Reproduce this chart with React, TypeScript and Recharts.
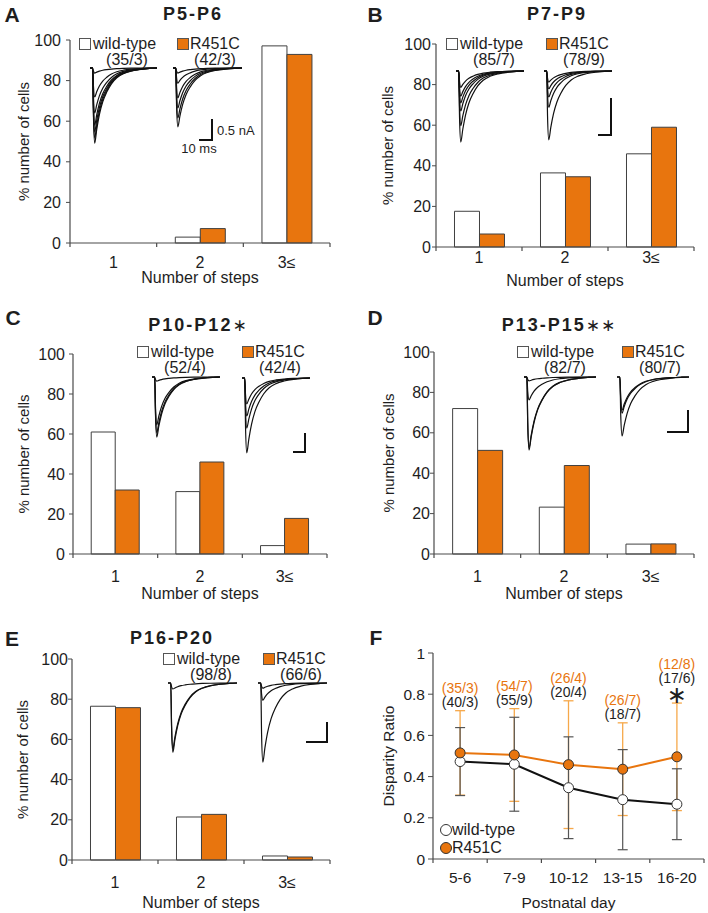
import React from 'react'
import {
  BarChart,
  Bar,
  LineChart,
  Line,
  XAxis,
  YAxis,
  ErrorBar,
  LabelList,
  Label,
} from 'recharts'

const FONT = '"Liberation Sans", Arial, Helvetica, sans-serif'
const ORANGE = '#E8750E'
const ERR_ORANGE = '#F6A84A'
const EDGE = '#404040'
const AXIS = '#4a4a4a'
const INK = '#1e1e1e'

// ---- bar panels: % of cells by number of steps ----
const steps = ['1', '2', '3≤']

const p5p6Wt = [0, 2.9, 97.1]
const p5p6R = [0, 7.1, 92.9]
const p7p9Wt = [17.6, 36.5, 45.9]
const p7p9R = [6.4, 34.6, 59.0]
const p10p12Wt = [61.0, 31.2, 4.2]
const p10p12R = [32.0, 46.0, 17.8]
const p13p15Wt = [72.0, 23.2, 4.9]
const p13p15R = [51.3, 43.8, 5.0]
const p16p20Wt = [76.5, 21.4, 2.0]
const p16p20R = [75.8, 22.7, 1.5]

// ---- panel F: disparity ratio ----
const days = ['5-6', '7-9', '10-12', '13-15', '16-20']
const wtRatio = [0.473, 0.46, 0.346, 0.288, 0.266]
const wtSd = [0.165, 0.228, 0.247, 0.243, 0.172]
const rRatio = [0.515, 0.505, 0.458, 0.436, 0.496]
const rSd = [0.205, 0.225, 0.31, 0.225, 0.261]
const wtCounts = ['(40/3)', '(55/9)', '(20/4)', '(18/7)', '(17/6)']
const rCounts = ['(35/3)', '(54/7)', '(26/4)', '(26/7)', '(12/8)']
const sig = ['', '', '', '', '∗']

// ---- inset traces: normalised EPSC waveform (ms, fraction of peak) ----
const traceT = [0, 2, 2.6, 3.5, 5, 7, 9.5, 12.5, 16, 20, 25, 31, 38, 45, 50]
const traceShape = [0, 0, -0.65, -1, -0.82, -0.62, -0.45, -0.32, -0.21, -0.13, -0.075, -0.04, -0.018, -0.006, 0]

// peak amplitudes (nA) of the overlaid sweeps in each inset
const ampsAWt = [1.79, 1.67, 1.52, 1.36, 1.07, 0.69, 0.12]
const ampsAR = [1.4, 1.19, 0.95, 0.71, 0.36, 0.12]
const ampsBWt = [0.96, 0.74, 0.54, 0.43, 0.34, 0.22]
const ampsBR = [0.93, 0.49, 0.35, 0.24, 0.15]
const ampsCWt = [1.58, 1.47, 1.26, 0.11]
const ampsCR = [1.97, 1.32, 1.0, 0.68]
const ampsDWt = [1.66, 1.61, 0.52, 0.09]
const ampsDR = [1.34, 0.82, 0.75]
const ampsEWt = [1.73, 1.65, 0.15]
const ampsER = [1.98, 0.43, 0.13]

// layout (absolute page coords)
const panelA = { ox: 0, oy: 0, w: 354, h: 300, x1: 70, x2: 330, y1: 40, y2: 243, yLabelX: 24, ytickGap: 5, tickOff: 19, titleOff: 34 }
const panelB = { ox: 354, oy: 0, w: 354, h: 300, x1: 436, x2: 694, y1: 44, y2: 247, yLabelX: 388, ytickGap: 1, tickOff: 10, titleOff: 33 }
const panelC = { ox: 0, oy: 300, w: 354, h: 310, x1: 73, x2: 327, y1: 354, y2: 554, yLabelX: 24, ytickGap: 4, tickOff: 22, titleOff: 39 }
const panelD = { ox: 354, oy: 300, w: 354, h: 310, x1: 434, x2: 694, y1: 352, y2: 554, yLabelX: 389, ytickGap: 0, tickOff: 22, titleOff: 39 }
const panelE = { ox: 0, oy: 600, w: 354, h: 313, x1: 72, x2: 330, y1: 659, y2: 860, yLabelX: 23, ytickGap: 0, tickOff: 22, titleOff: 42 }
const panelF = { ox: 354, oy: 600, w: 354, h: 313, x1: 433, x2: 704, y1: 653, y2: 859, yLabelX: 388, ytickGap: 3, tickOff: 18, titleOff: 43 }

function CatTick(props: any) {
  const { x, payload, index, band, axisY, off, count, size } = props
  const left = x - band / 2
  return (
    <g>
      <line x1={left} x2={left} y1={axisY} y2={axisY + 4} stroke={AXIS} strokeWidth={1.2} />
      {index === count - 1 && (
        <line x1={x + band / 2} x2={x + band / 2} y1={axisY} y2={axisY + 4} stroke={AXIS} strokeWidth={1.2} />
      )}
      <text x={x} y={axisY + off + size * 0.36} textAnchor="middle" fontSize={size} fill={INK} fontFamily={FONT}>
        {payload.value}
      </text>
    </g>
  )
}

function BarPanel({ cfg, wt, r }: any) {
  const { ox, oy, w, h, x1, x2, y1, y2 } = cfg
  const data = steps.map((s, i) => ({ step: s, wt: wt[i], r: r[i] }))
  const yAxisW = x1 - ox
  const xAxisH = oy + h - y2
  const band = (x2 - x1) / steps.length
  const axisY = y2 - oy
  return (
    <div style={{ position: 'absolute', left: ox, top: oy }}>
      <BarChart
        width={w}
        height={h}
        data={data}
        margin={{ top: y1 - oy, right: ox + w - x2, left: 0, bottom: 0 }}
        barCategoryGap="21.5%"
        barGap={0}
      >
        <XAxis
          dataKey="step"
          height={xAxisH}
          interval={0}
          tickLine={false}
          tickSize={0}
          tickMargin={0}
          axisLine={{ stroke: AXIS, strokeWidth: 1.2 }}
          tick={(p: any) => (
            <CatTick {...p} band={band} axisY={axisY} off={cfg.tickOff} count={steps.length} size={16} />
          )}
        >
          <Label
            value="Number of steps"
            position="insideBottom"
            offset={xAxisH - cfg.titleOff - 5.7}
            style={{ fontSize: 16, fill: INK, fontFamily: FONT }}
          />
        </XAxis>
        <YAxis
          width={yAxisW}
          domain={[0, 100]}
          ticks={[0, 20, 40, 60, 80, 100]}
          interval={0}
          tickSize={4}
          tickMargin={cfg.ytickGap}
          stroke={AXIS}
          axisLine={{ stroke: AXIS, strokeWidth: 1.2 }}
          tick={{ fontSize: 16, fill: INK, fontFamily: FONT }}
        >
          <Label
            value="% number of cells"
            angle={-90}
            position="insideLeft"
            offset={cfg.yLabelX - ox}
            style={{ textAnchor: 'middle', fontSize: 15, fill: INK, fontFamily: FONT }}
          />
        </YAxis>
        <Bar dataKey="wt" fill="#fff" stroke={EDGE} strokeWidth={1} isAnimationActive={false} />
        <Bar dataKey="r" fill={ORANGE} stroke={EDGE} strokeWidth={1} isAnimationActive={false} />
      </BarChart>
    </div>
  )
}

function Trace({ x1, x2, base, ppn, amps }: any) {
  const h = Math.ceil(Math.max(...amps) * ppn) + 3
  const data = traceT.map((t, i) => {
    const row: any = { t }
    amps.forEach((a: number, k: number) => {
      row['a' + k] = traceShape[i] * a
    })
    return row
  })
  return (
    <div style={{ position: 'absolute', left: x1, top: base - 1 }}>
      <LineChart width={x2 - x1} height={h} data={data} margin={{ top: 1, right: 0, bottom: 1, left: 0 }}>
        <XAxis hide type="number" dataKey="t" domain={[0, 50]} />
        <YAxis hide domain={[-(h - 2) / ppn, 0]} />
        {amps.map((_: number, k: number) => (
          <Line
            key={k}
            dataKey={'a' + k}
            type="monotone"
            stroke="#111"
            strokeWidth={1.2}
            dot={false}
            isAnimationActive={false}
          />
        ))}
      </LineChart>
    </div>
  )
}

function ScaleBar({ vx, vy1, vy2, hx1 }: any) {
  return (
    <>
      <div style={{ position: 'absolute', left: vx - 0.75, top: vy1, width: 1.5, height: vy2 - vy1 + 0.75, background: '#111' }} />
      <div style={{ position: 'absolute', left: hx1, top: vy2 - 0.75, width: vx - hx1, height: 1.5, background: '#111' }} />
    </>
  )
}

function Txt({ x, y, size = 16, bold = false, color = INK, anchor = 'middle', spacing = 0, family = FONT, children }: any) {
  const tx = anchor === 'middle' ? '-50%' : anchor === 'end' ? '-100%' : '0'
  return (
    <div
      style={{
        position: 'absolute',
        left: x,
        top: y,
        transform: `translate(${tx}, -50%)`,
        fontSize: size,
        fontWeight: bold ? 700 : 400,
        color,
        whiteSpace: 'nowrap',
        lineHeight: 1,
        letterSpacing: spacing,
        fontFamily: family,
      }}
    >
      {children}
    </div>
  )
}

function BarLegend({ wx, rx, y, wtN, rN }: any) {
  return (
    <>
      <div style={{ position: 'absolute', left: wx, top: y, width: 10, height: 10, background: '#fff', border: '1px solid #555' }} />
      <Txt x={wx + 14} y={y + 5.5} anchor="start">wild-type</Txt>
      <Txt x={wx + 48} y={y + 21.5}>{wtN}</Txt>
      <div style={{ position: 'absolute', left: rx, top: y, width: 10, height: 10, background: ORANGE, border: '1px solid #555' }} />
      <Txt x={rx + 13} y={y + 5.5} anchor="start">R451C</Txt>
      <Txt x={rx + 38} y={y + 21.5}>{rN}</Txt>
    </>
  )
}

function Title({ x, y, text, star = '' }: any) {
  return (
    <Txt x={x} y={y} size={18} bold spacing={2}>
      {text}
      {star && (
        <span style={{ fontFamily: '"DejaVu Sans", sans-serif', fontWeight: 400, fontSize: 17, letterSpacing: 1 }}>
          {star}
        </span>
      )}
    </Txt>
  )
}

function RatioPanel() {
  const { ox, oy, w, h, x1, x2, y1, y2 } = panelF
  const data = days.map((d, i) => ({ day: d, wt: wtRatio[i], wtErr: wtSd[i], r: rRatio[i], rErr: rSd[i] }))
  const yAxisW = x1 - ox
  const xAxisH = oy + h - y2
  const band = (x2 - x1) / days.length
  const axisY = y2 - oy
  const pxPerUnit = y2 - y1

  const renderCounts = (props: any) => {
    const { index } = props
    const vb = props.viewBox || {}
    const x = vb.x ?? props.x
    const y = vb.y ?? props.y
    const top = y - rSd[index] * pxPerUnit
    const lift = sig[index] ? 16 : 0
    return (
      <g fontFamily={FONT} fontSize={14} textAnchor="middle">
        {sig[index] && (
          <text x={x} y={top} fontSize={24} fill={INK} fontFamily='"DejaVu Sans", sans-serif'>
            {sig[index]}
          </text>
        )}
        <text x={x} y={top - 4 - lift} fill={INK}>
          {wtCounts[index]}
        </text>
        <text x={x} y={top - 18 - lift} fill={ORANGE}>
          {rCounts[index]}
        </text>
      </g>
    )
  }

  return (
    <div style={{ position: 'absolute', left: ox, top: oy }}>
      <LineChart width={w} height={h} data={data} margin={{ top: y1 - oy, right: ox + w - x2, left: 0, bottom: 0 }}>
        <XAxis
          dataKey="day"
          scale="band"
          height={xAxisH}
          interval={0}
          tickLine={false}
          tickSize={0}
          tickMargin={0}
          axisLine={{ stroke: AXIS, strokeWidth: 1.2 }}
          tick={(p: any) => (
            <CatTick {...p} band={band} axisY={axisY} off={panelF.tickOff} count={days.length} size={15.5} />
          )}
        >
          <Label
            value="Postnatal day"
            position="insideBottom"
            offset={xAxisH - panelF.titleOff - 5.6}
            style={{ fontSize: 15.5, fill: INK, fontFamily: FONT }}
          />
        </XAxis>
        <YAxis
          width={yAxisW}
          domain={[0, 1]}
          ticks={[0, 0.2, 0.4, 0.6, 0.8, 1]}
          interval={0}
          tickSize={5}
          tickMargin={panelF.ytickGap}
          stroke={AXIS}
          axisLine={{ stroke: AXIS, strokeWidth: 1.2 }}
          tick={{ fontSize: 15.5, fill: INK, fontFamily: FONT }}
        >
          <Label
            value="Disparity Ratio"
            angle={-90}
            position="insideLeft"
            offset={panelF.yLabelX - ox}
            style={{ textAnchor: 'middle', fontSize: 15.5, fill: INK, fontFamily: FONT }}
          />
        </YAxis>
        <Line dataKey="r" stroke="none" dot={false} activeDot={false} isAnimationActive={false}>
          <ErrorBar dataKey="rErr" width={5} stroke={ERR_ORANGE} strokeWidth={1.3} direction="y" />
        </Line>
        <Line dataKey="wt" stroke="none" dot={false} activeDot={false} isAnimationActive={false}>
          <ErrorBar dataKey="wtErr" width={5} stroke="#555" strokeWidth={1.2} direction="y" />
        </Line>
        <Line
          dataKey="wt"
          stroke="#111"
          strokeWidth={2}
          dot={{ r: 5, fill: '#fff', stroke: '#333', strokeWidth: 1 }}
          isAnimationActive={false}
        />
        <Line
          dataKey="r"
          stroke={ORANGE}
          strokeWidth={2}
          dot={{ r: 5, fill: ORANGE, stroke: '#333', strokeWidth: 1 }}
          isAnimationActive={false}
        >
          <LabelList dataKey="r" content={renderCounts} />
        </Line>
      </LineChart>
    </div>
  )
}

export default function App() {
  return (
    <div
      style={{
        position: 'absolute',
        left: 0,
        top: 0,
        width: 708,
        height: 913,
        background: '#fff',
        overflow: 'hidden',
        fontFamily: FONT,
        color: INK,
      }}
    >
      <BarPanel cfg={panelA} wt={p5p6Wt} r={p5p6R} />
      <BarPanel cfg={panelB} wt={p7p9Wt} r={p7p9R} />
      <BarPanel cfg={panelE} wt={p16p20Wt} r={p16p20R} />
      <RatioPanel />
      <BarPanel cfg={panelC} wt={p10p12Wt} r={p10p12R} />
      <BarPanel cfg={panelD} wt={p13p15Wt} r={p13p15R} />

      {/* recording insets */}
      <Trace x1={90} x2={157} base={68} ppn={42} amps={ampsAWt} />
      <Trace x1={173} x2={242} base={68} ppn={42} amps={ampsAR} />
      <Trace x1={456} x2={524} base={71} ppn={74} amps={ampsBWt} />
      <Trace x1={544} x2={612} base={71} ppn={74} amps={ampsBR} />
      <Trace x1={152} x2={220} base={377} ppn={38} amps={ampsCWt} />
      <Trace x1={242} x2={310} base={378} ppn={38} amps={ampsCR} />
      <Trace x1={524} x2={596} base={377} ppn={44} amps={ampsDWt} />
      <Trace x1={617} x2={689} base={377} ppn={44} amps={ampsDR} />
      <Trace x1={168} x2={237} base={683} ppn={40} amps={ampsEWt} />
      <Trace x1={258} x2={327} base={683} ppn={40} amps={ampsER} />

      <ScaleBar vx={212} vy1={119} vy2={140} hx1={199} />
      <Txt x={217} y={130} size={13} anchor="start">0.5 nA</Txt>
      <Txt x={199} y={148} size={13}>10 ms</Txt>
      <ScaleBar vx={611} vy1={98} vy2={135} hx1={598} />
      <ScaleBar vx={305} vy1={433} vy2={452} hx1={293} />
      <ScaleBar vx={688} vy1={410} vy2={432} hx1={667} />
      <ScaleBar vx={327} vy1={722} vy2={742} hx1={306} />

      {/* legends with cell / animal counts */}
      <BarLegend wx={79} rx={177} y={38} wtN="(35/3)" rN="(42/3)" />
      <BarLegend wx={446} rx={546} y={38} wtN="(85/7)" rN="(78/9)" />
      <BarLegend wx={137} rx={242} y={346} wtN="(52/4)" rN="(42/4)" />
      <BarLegend wx={517} rx={622} y={346} wtN="(82/7)" rN="(80/7)" />
      <BarLegend wx={163} rx={263} y={653} wtN="(98/8)" rN="(66/6)" />

      <div style={{ position: 'absolute', left: 440, top: 824, width: 10, height: 10, borderRadius: '50%', background: '#fff', border: '1px solid #333' }} />
      <Txt x={452} y={830} anchor="start">wild-type</Txt>
      <div style={{ position: 'absolute', left: 440, top: 842, width: 10, height: 10, borderRadius: '50%', background: ORANGE, border: '1px solid #333' }} />
      <Txt x={452} y={848} anchor="start">R451C</Txt>

      {/* titles and panel letters */}
      <Title x={193} y={14} text="P5-P6" />
      <Title x={557} y={14} text="P7-P9" />
      <Title x={198} y={325} text="P10-P12" star="∗" />
      <Title x={559} y={325} text="P13-P15" star="∗∗" />
      <Title x={172} y={638} text="P16-P20" />
      <Txt x={12} y={14} size={21} bold>A</Txt>
      <Txt x={375} y={14} size={21} bold>B</Txt>
      <Txt x={13} y={317} size={21} bold>C</Txt>
      <Txt x={375} y={317} size={21} bold>D</Txt>
      <Txt x={12} y={638} size={21} bold>E</Txt>
      <Txt x={376} y={637} size={21} bold>F</Txt>
    </div>
  )
}
